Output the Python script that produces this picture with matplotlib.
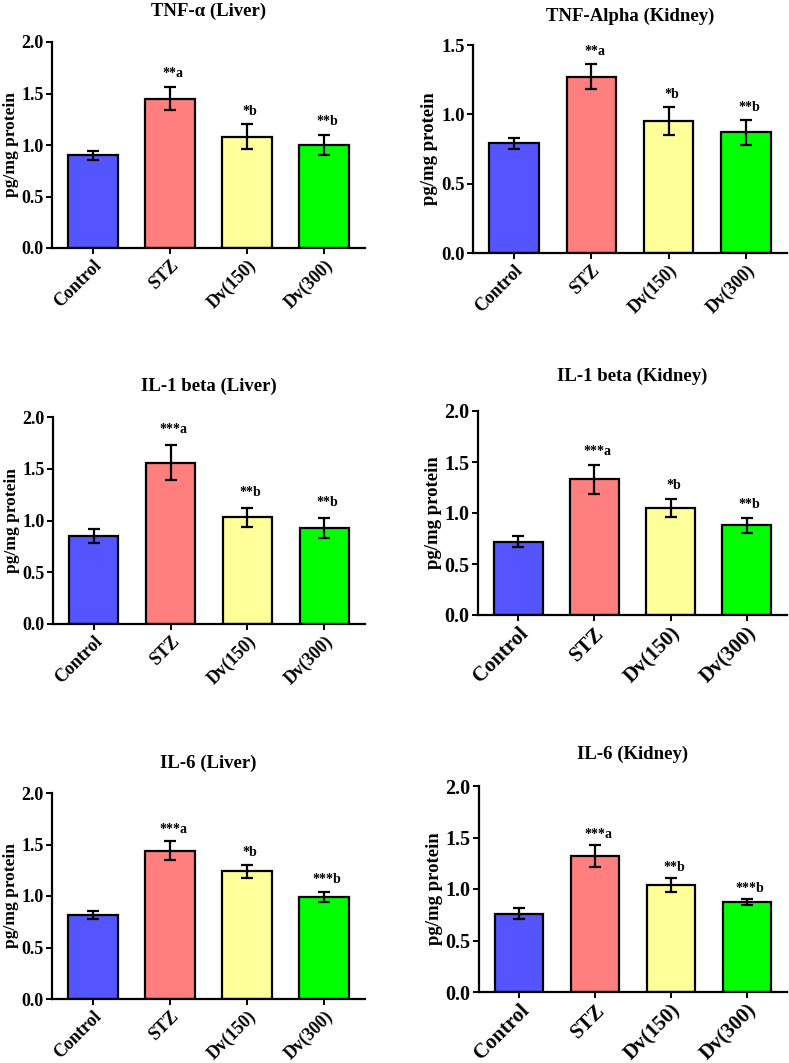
import numpy as np
import matplotlib
matplotlib.use('Agg')
import matplotlib.pyplot as plt

plt.rcParams['font.family'] = ['Liberation Serif', 'DejaVu Serif']
plt.rcParams['font.weight'] = 'bold'

# Grupos
grupos = ['Control', 'STZ', 'Dv(150)', 'Dv(300)']
colores = ['#5555FF', '#FF7F7F', '#FFFF99', '#00FF00']

# Valores (media) y error
tnf_liver = [0.90, 1.45, 1.08, 1.00]
tnf_liver_err = [0.045, 0.11, 0.12, 0.10]
tnf_liver_sig = ['', '**a', '*b', '**b']

tnf_kidney = [0.79, 1.27, 0.95, 0.87]
tnf_kidney_err = [0.04, 0.09, 0.10, 0.09]
tnf_kidney_sig = ['', '**a', '*b', '**b']

il1_liver = [0.85, 1.56, 1.03, 0.93]
il1_liver_err = [0.065, 0.17, 0.09, 0.095]
il1_liver_sig = ['', '***a', '**b', '**b']

il1_kidney = [0.72, 1.33, 1.05, 0.88]
il1_kidney_err = [0.05, 0.14, 0.09, 0.075]
il1_kidney_sig = ['', '***a', '*b', '**b']

il6_liver = [0.815, 1.44, 1.24, 0.99]
il6_liver_err = [0.035, 0.09, 0.065, 0.05]
il6_liver_sig = ['', '***a', '*b', '***b']

il6_kidney = [0.76, 1.32, 1.04, 0.875]
il6_kidney_err = [0.055, 0.11, 0.065, 0.03]
il6_kidney_sig = ['', '***a', '**b', '***b']

W, H = 789, 1063
fig = plt.figure(figsize=(W/100, H/100), dpi=100)

def px_axes(l, r, t, b):
    return fig.add_axes([l/W, 1 - b/H, (r-l)/W, (b-t)/H])

def panel(ax, titulo, vals, errs, sigs, ymax, yticks, fs_tick, fs_lab, fs_x, sig_off, tpad):
    x = np.arange(len(grupos))
    ax.bar(x, vals, width=0.64, color=colores, edgecolor='black', linewidth=1.6, zorder=2)
    ax.errorbar(x, vals, yerr=errs, fmt='none', ecolor='black', elinewidth=1.6,
                capsize=4, capthick=1.6, zorder=3)
    for xi, v, e, s in zip(x, vals, errs, sigs):
        if s:
            ax.text(xi + 0.04, v + e + sig_off, s, ha='center', va='center', fontsize=10, fontweight='bold')
    ax.set_xlim(-0.53, 3.53)
    ax.set_ylim(0, ymax)
    ax.set_yticks(yticks)
    ax.set_yticklabels(['%.1f' % t for t in yticks], fontsize=fs_tick, fontweight='bold')
    ax.set_xticks(x)
    ax.set_xticklabels(grupos, rotation=45, ha='right', rotation_mode='anchor',
                       fontsize=fs_x, fontweight='bold')
    ax.set_ylabel('pg/mg protein', fontsize=fs_lab, fontweight='bold', labelpad=2)
    ax.set_title(titulo, fontsize=13.5, fontweight='bold', pad=tpad)
    ax.spines['top'].set_visible(False)
    ax.spines['right'].set_visible(False)
    ax.spines['left'].set_linewidth(1.6)
    ax.spines['bottom'].set_linewidth(1.6)
    ax.tick_params(axis='both', direction='out', length=4, width=1.4, pad=2)

ax1 = px_axes(52, 365, 42, 248)
panel(ax1, 'TNF-α (Liver)', tnf_liver, tnf_liver_err, tnf_liver_sig, 2.0,
      [0.0, 0.5, 1.0, 1.5, 2.0], 13, 12.5, 13, 0.13, 18.5)

ax2 = px_axes(473, 787, 45, 253)
panel(ax2, 'TNF-Alpha (Kidney)', tnf_kidney, tnf_kidney_err, tnf_kidney_sig, 1.5,
      [0.0, 0.5, 1.0, 1.5], 13.5, 13.5, 13, 0.09, 17)

ax3 = px_axes(53, 365, 417, 624)
panel(ax3, 'IL-1 beta (Liver)', il1_liver, il1_liver_err, il1_liver_sig, 2.0,
      [0.0, 0.5, 1.0, 1.5, 2.0], 13, 12.5, 13, 0.15, 18.5)

ax4 = px_axes(478, 787, 411, 615)
panel(ax4, 'IL-1 beta (Kidney)', il1_kidney, il1_kidney_err, il1_kidney_sig, 2.0,
      [0.0, 0.5, 1.0, 1.5, 2.0], 14.5, 13.5, 15, 0.13, 22)

ax5 = px_axes(52, 365, 793, 999)
panel(ax5, 'IL-6 (Liver)', il6_liver, il6_liver_err, il6_liver_sig, 2.0,
      [0.0, 0.5, 1.0, 1.5, 2.0], 13, 12.5, 13, 0.12, 18)

ax6 = px_axes(479, 787, 786, 992)
panel(ax6, 'IL-6 (Kidney)', il6_kidney, il6_kidney_err, il6_kidney_sig, 2.0,
      [0.0, 0.5, 1.0, 1.5, 2.0], 14.5, 13.5, 15, 0.10, 19.5)

fig.savefig('out.png', dpi=100, facecolor='white')
